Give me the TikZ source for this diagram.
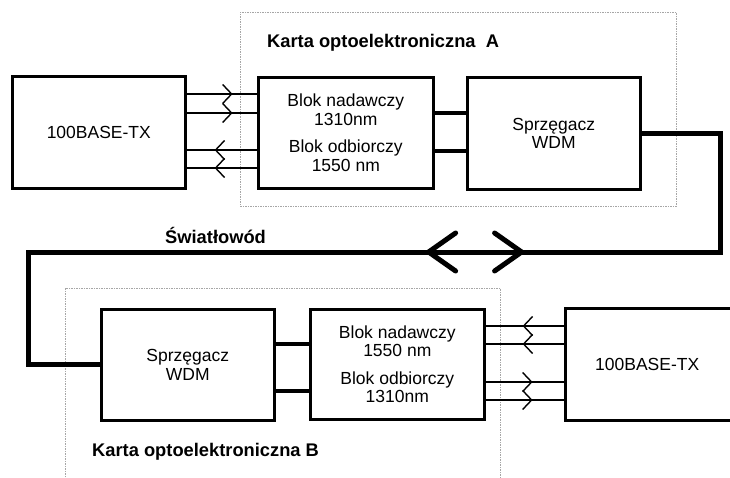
\documentclass[tikz,border=0pt]{standalone}
\usepackage{fontspec}
\setmainfont{Liberation Sans}
\usetikzlibrary{arrows.meta,decorations.markings}
\begin{document}
\begin{tikzpicture}[x=1pt,y=-1pt,
  box/.style={draw, line width=2.6pt, anchor=north west, inner sep=0pt,
    align=center, font=\fontsize{17.5}{18.5}\selectfont},
  card/.style={draw=gray!70, line width=0.7pt, dash pattern=on 1.5pt off 1pt,
    anchor=north west, inner sep=0pt},
  title/.style={anchor=west, inner sep=0pt, font=\fontsize{18.3}{20}\selectfont\bfseries},
  link/.style={line width=1.4pt},
  fwd/.style={postaction={decorate}, decoration={markings,
    mark=at position #1 with {\arrow{Straight Barb[length=9pt,width=19pt]}}}},
  bwd/.style={postaction={decorate}, decoration={markings,
    mark=at position #1 with {\arrowreversed{Straight Barb[length=9pt,width=19pt]}}}},
  bus/.style={line width=4pt},
  fiber/.style={line width=5pt, postaction={decorate}, decoration={markings,
    mark=at position 491pt with {\arrow{Straight Barb[length=27pt,width=38pt,round]}},
    mark=at position 393pt with {\arrowreversed{Straight Barb[length=27pt,width=38pt,round]}}}}
]
\useasboundingbox (0,0) rectangle (730,478);
\clip (0,0) rectangle (730,478);

% cards
\node[card, minimum width=436pt, minimum height=194pt] (cardA) at (240,12) {};
\node[card, minimum width=435pt, minimum height=230pt] (cardB) at (65,288) {};
\node[title] (titleA) at (267,43) {Karta optoelektroniczna~ A};
\node[title] (titleB) at (92,452) {Karta optoelektroniczna B};
\node[title] (fibre) at (165,235) {Światłowód};

% boxes
\node[box, minimum width=173pt, minimum height=112pt] (txA) at (11,75) {100BASE-TX};
\node[box, minimum width=175pt, minimum height=111pt] (blokA) at (257,76)
  {Blok nadawczy\\1310nm\\[9pt]Blok odbiorczy\\1550 nm};
\node[box, minimum width=173pt, minimum height=112pt] (wdmA) at (466,76) {Sprzęgacz\\WDM};
\node[box, minimum width=173pt, minimum height=111pt] (wdmB) at (100,308) {Sprzęgacz\\WDM};
\node[box, minimum width=174pt, minimum height=110pt] (blokB) at (309,308)
  {Blok nadawczy\\1550 nm\\[9pt]Blok odbiorczy\\1310nm};
\node[box, minimum width=180pt, minimum height=112pt, text width=165pt, align=left] (txB) at (564,307)
  {\hspace*{-1pt}\quad\ 100BASE-TX};

% y levels
\coordinate (ya1) at (0,94);
\coordinate (ya2) at (0,113);
\coordinate (ya3) at (0,150);
\coordinate (ya4) at (0,168);
\coordinate (yb1) at (0,326);
\coordinate (yb2) at (0,344);
\coordinate (yb3) at (0,382);
\coordinate (yb4) at (0,400);
\coordinate (ba1) at (0,113);
\coordinate (ba2) at (0,151);
\coordinate (bb1) at (0,344);
\coordinate (bb2) at (0,391);

% electrical links A
\draw[link, fwd=46pt] (txA.east |- ya1) -- (blokA.west |- ya1);
\draw[link, fwd=46pt] (txA.east |- ya2) -- (blokA.west |- ya2);
\draw[link, bwd=28pt] (txA.east |- ya3) -- (blokA.west |- ya3);
\draw[link, bwd=28pt] (txA.east |- ya4) -- (blokA.west |- ya4);

% electrical links B
\draw[link, bwd=37pt] (blokB.east |- yb1) -- (txB.west |- yb1);
\draw[link, bwd=37pt] (blokB.east |- yb2) -- (txB.west |- yb2);
\draw[link, fwd=47pt] (blokB.east |- yb3) -- (txB.west |- yb3);
\draw[link, fwd=47pt] (blokB.east |- yb4) -- (txB.west |- yb4);

% optical buses
\draw[bus] (blokA.east |- ba1) -- (wdmA.west |- ba1);
\draw[bus] (blokA.east |- ba2) -- (wdmA.west |- ba2);
\draw[bus] (wdmB.east |- bb1) -- (blokB.west |- bb1);
\draw[bus] (wdmB.east |- bb2) -- (blokB.west |- bb2);

% fibre
\coordinate (f1) at (720,252);
\coordinate (f2) at (28,252);
\draw[fiber] (wdmA.east) -| (f1) -- (f2) |- (wdmB.west);
\end{tikzpicture}
\end{document}
